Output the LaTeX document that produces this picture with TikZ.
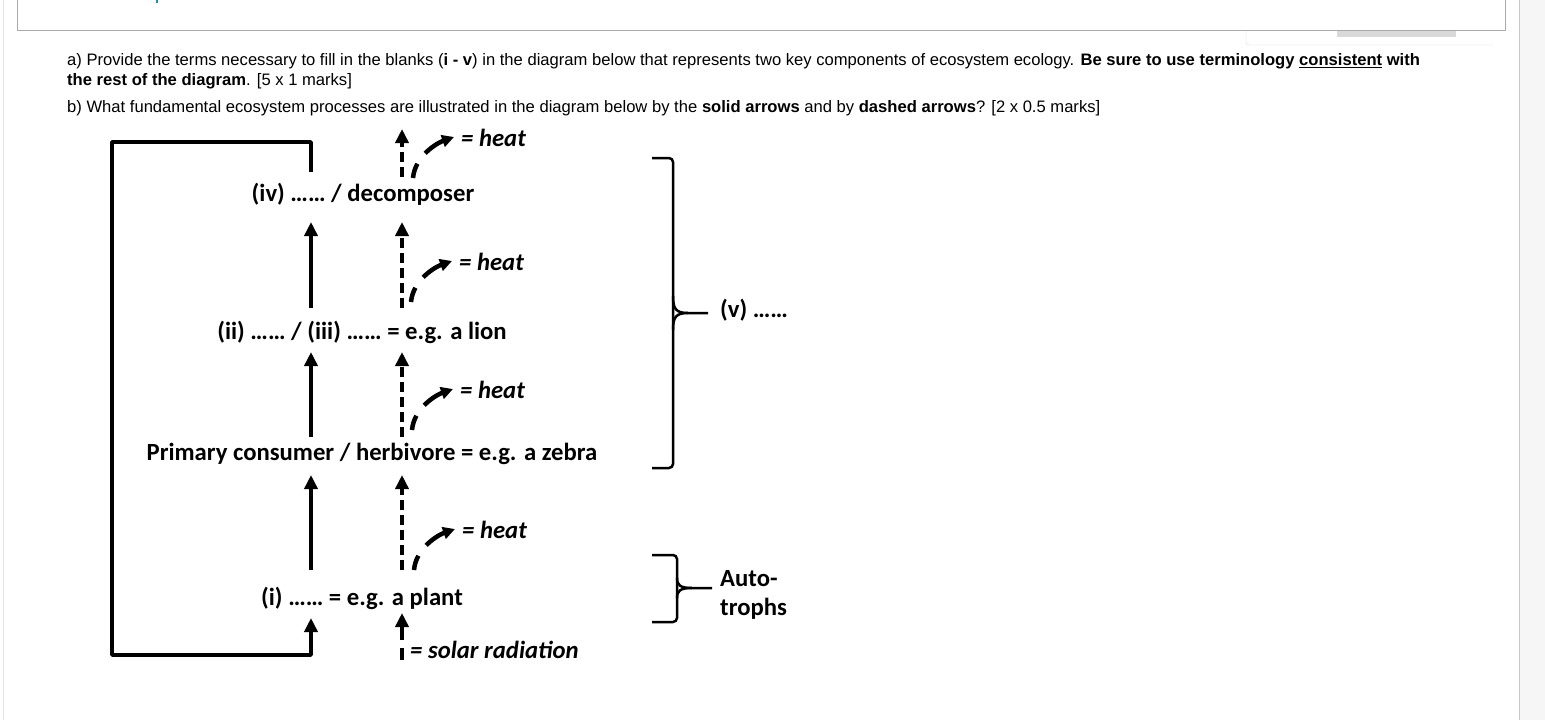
\documentclass[tikz,border=0pt]{standalone}
\usepackage{fontspec}
\setmainfont{Liberation Sans}
\newfontfamily\calib{Carlito}
\usetikzlibrary{arrows.meta,calc,positioning}
\definecolor{framegray}{HTML}{A9A9A9}
\definecolor{sidegray}{HTML}{F6F6F6}
\definecolor{rulegray}{HTML}{C8C8C8}
\definecolor{bargray}{HTML}{D9D9D9}
\definecolor{linkteal}{HTML}{1E8FA8}
\begin{document}
\begin{tikzpicture}[x=1pt, y=-1pt, line join=round, >={Triangle[width=13pt,length=14pt]},
    question/.style={anchor=west, inner sep=0pt, font=\fontsize{16.6}{20}\selectfont},
    level/.style={inner sep=0pt, text height=17pt, text depth=1pt, font=\calib\bfseries\fontsize{24.7}{29}\selectfont},
    heatlbl/.style={anchor=west, inner sep=0pt, font=\calib\bfseries\itshape\fontsize{24.7}{29}\selectfont},
    flow/.style={->, line width=3.5pt},
    energy/.style={->, line width=3.5pt, dash pattern=on 10pt off 5pt},
    loss/.style={-{Triangle[width=12pt,length=12pt]}, line width=4.5pt, dash pattern=on 15pt off 13pt on 80pt},
    brace/.style={line width=2.5pt, rounded corners=4pt}]
  \useasboundingbox (0,0) rectangle (1545,720);
  % page
  \fill[white] (0,0) rectangle (1519,720);
  \fill[sidegray] (1519,0) rectangle (1545,720);
  \draw[rulegray, line width=1pt] (1519,0) -- (1519,720);
  \draw[gray!20, line width=1pt] (3,0) -- (3,720);
  \draw[gray!30, fill=white, rounded corners=3pt] (1246,20) -- (1246,45) -- (1493,45);
  \fill[bargray] (1337,30) rectangle (1456,37);
  \draw[framegray, fill=white, line width=1pt] (17,-5) rectangle (1505,30);
  \fill[linkteal] (156,0) rectangle (158,3);
  % question
  \node[question] (qa) at (67,61) {a) Provide the terms necessary to fill in the blanks (\textbf{i - v}) in the diagram below that represents two key components of ecosystem ecology. \textbf{Be sure to use terminology \underline{consistent} with}};
  \node[question] (qa2) at (67,81) {\textbf{the rest of the diagram}. [5 x 1 marks]};
  \node[question] (qb) at (67,108) {b) What fundamental ecosystem processes are illustrated in the diagram below by the \textbf{solid arrows} and by \textbf{dashed arrows}? [2 x 0.5 marks]};
  % trophic levels
  \node[level] (dec) at (363,193) {(iv) …… / decomposer};
  \node[level] (lion) at (362,331) {(ii) …… / (iii) …… = e.g. a lion};
  \node[level] (zebra) at (372,452) {Primary consumer / herbivore = e.g. a zebra};
  \node[level] (plant) at (362,597) {(i) …… = e.g. a plant};
  \coordinate (sx) at (311,0);
  \coordinate (dx) at (402,0);
  % solid arrows
  \draw[flow] ($(sx |- plant)+(0,-27)$) -- ($(sx |- zebra)+(0,23)$);
  \draw[flow] ($(sx |- zebra)+(0,-15)$) -- ($(sx |- lion)+(0,21)$);
  \draw[flow] ($(sx |- lion)+(0,-23)$) -- ($(sx |- dec)+(0,29)$);
  \coordinate (fl) at (112,142);
  \coordinate (fb) at (112,655);
  \draw[flow] ($(sx |- dec)+(0,-21)$) |- (fl) -- (fb) -| ($(sx |- plant)+(0,21)$);
  % dashed arrows
  \draw[energy] ($(dx |- plant)+(0,-27)$) -- ($(dx |- zebra)+(0,23)$);
  \draw[energy] ($(dx |- zebra)+(0,-15)$) -- ($(dx |- lion)+(0,21)$);
  \draw[energy] ($(dx |- lion)+(0,-23)$) -- ($(dx |- dec)+(0,29)$);
  \draw[energy] ($(dx |- dec)+(0,-16)$) -- ($(dx |- dec)+(0,-64)$);
  \coordinate (sun) at (402,660);
  \draw[energy, dash pattern=on 12pt off 8pt on 13pt] (sun) -- ($(dx |- plant)+(0,16)$);
  % heat
  \node[heatlbl] (heat4) at (461,138) {= heat};
  \node[heatlbl] (heat3) at (459,262) {= heat};
  \node[heatlbl] (heat2) at (460,390) {= heat};
  \node[heatlbl] (heat1) at (462,530) {= heat};
  \foreach \h in {heat1,heat2,heat3,heat4}
    \draw[loss] ($(\h.west)+(-48,40)$) .. controls ($(\h.west)+(-46,18)$) and ($(\h.west)+(-24,5)$) .. ($(\h.west)+(-7,-1)$);
  \node[heatlbl] (solar) at (410,650) {= solar radiation};
  % brackets
  \draw[brace] (652,158) -| (673,468) -- (652,468);
  \draw[brace, rounded corners=0pt] (673,296) .. controls (673,309) and (676,313) .. (688,313) -- (708,313);
  \draw[brace, rounded corners=0pt] (673,330) .. controls (673,317) and (676,313) .. (688,313);
  \node[heatlbl, font=\calib\bfseries\fontsize{24.7}{29}\selectfont] (v) at (720,310) {(v) ……};
  \draw[brace] (652,555) -| (677,622) -- (652,622);
  \draw[brace, rounded corners=0pt] (677,578) .. controls (677,585) and (680,588) .. (692,588) -- (712,588);
  \draw[brace, rounded corners=0pt] (677,598) .. controls (677,591) and (680,588) .. (692,588);
  \node[heatlbl, font=\calib\bfseries\fontsize{24.7}{29}\selectfont, align=left] (auto) at (720,595) {Auto-\\trophs};
\end{tikzpicture}
\end{document}
